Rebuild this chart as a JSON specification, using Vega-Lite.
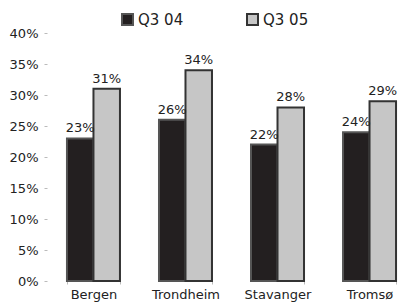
{
  "$schema": "https://vega.github.io/schema/vega-lite/v6.json",
  "autosize": "none",
  "width": 362,
  "height": 248,
  "padding": {"left": 47, "top": 33, "right": 0, "bottom": 25},
  "background": "white",
  "config": {
    "view": {"stroke": null},
    "font": "DejaVu Sans",
    "axis": {"labelFont": "DejaVu Sans", "labelFontSize": 13, "labelColor": "#222222", "grid": false, "domain": false, "tickColor": "#bbbbbb", "tickSize": 3}
  },
  "data": {
    "values": [
      {"city": "Bergen", "q": "Q3 04", "v": 0.23},
      {"city": "Bergen", "q": "Q3 05", "v": 0.31},
      {"city": "Trondheim", "q": "Q3 04", "v": 0.26},
      {"city": "Trondheim", "q": "Q3 05", "v": 0.34},
      {"city": "Stavanger", "q": "Q3 04", "v": 0.22},
      {"city": "Stavanger", "q": "Q3 05", "v": 0.28},
      {"city": "Tromsø", "q": "Q3 04", "v": 0.24},
      {"city": "Tromsø", "q": "Q3 05", "v": 0.29}
    ]
  },
  "encoding": {
    "x": {"field": "city", "type": "nominal", "sort": null,
      "scale": {"range": [0, 369], "paddingInner": 0.424, "paddingOuter": 0.217},
      "axis": {"title": null, "labelAngle": 0, "labelPadding": 4, "tickBand": "extent", "ticks": true}},
    "xOffset": {"field": "q", "type": "nominal", "scale": {"paddingInner": 0}},
    "y": {"field": "v", "type": "quantitative",
      "scale": {"domain": [0, 0.4]},
      "axis": {"title": null, "values": [0,0.05,0.1,0.15,0.2,0.25,0.3,0.35,0.4], "format": ".0%", "labelPadding": 6}}
  },
  "layer": [
    {
      "mark": {"type": "bar", "strokeWidth": 2},
      "encoding": {
        "fill": {"field": "q", "type": "nominal", "scale": {"domain": ["Q3 04", "Q3 05"], "range": ["#231f20", "#c6c6c6"]},
          "legend": {"title": null, "orient": "none", "direction": "horizontal", "legendX": 73, "legendY": -21, "symbolType": "square", "symbolSize": 121, "symbolStrokeWidth": 2, "labelFontSize": 15, "labelFont": "DejaVu Sans", "labelColor": "#222222", "labelOffset": 3, "columnPadding": 59}},
        "stroke": {"field": "q", "type": "nominal", "scale": {"domain": ["Q3 04", "Q3 05"], "range": ["#555555", "#333333"]}, "legend": null}
      }
    },
    {
      "mark": {"type": "text", "baseline": "alphabetic", "dy": -6, "fontSize": 13, "color": "#222222", "font": "DejaVu Sans"},
      "encoding": {"text": {"field": "v", "type": "quantitative", "format": ".0%"}, "detail": {"field": "q"}}
    }
  ]
}
